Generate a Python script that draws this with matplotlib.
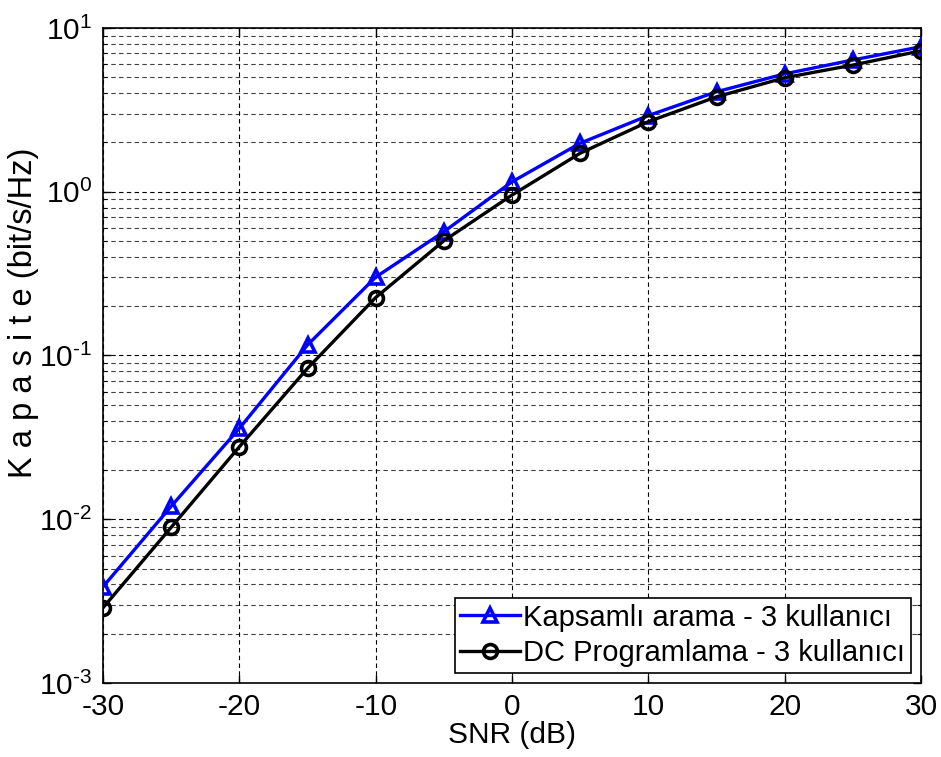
import matplotlib
matplotlib.use("Agg")
import matplotlib.pyplot as plt
from matplotlib.ticker import LogLocator, NullFormatter, FixedLocator, FuncFormatter
import numpy as np

plt.rcParams['font.family'] = ['Liberation Sans', 'DejaVu Sans']
plt.rcParams['mathtext.fontset'] = 'custom'
plt.rcParams['mathtext.rm'] = 'Liberation Sans'
plt.rcParams['mathtext.it'] = 'Liberation Sans'
plt.rcParams['axes.unicode_minus'] = False

snr = [-30, -25, -20, -15, -10, -5, 0, 5, 10, 15, 20, 25, 30]
kapsamli = [0.00387, 0.0120, 0.0359, 0.116, 0.301, 0.570, 1.15, 1.98, 2.92, 4.08, 5.25, 6.38, 7.69]
dc_prog = [0.00288, 0.00893, 0.0277, 0.0835, 0.226, 0.502, 0.955, 1.72, 2.68, 3.80, 4.97, 5.94, 7.26]
labels = ['Kapsamlı arama - 3 kullanıcı', 'DC Programlama - 3 kullanıcı']
xticks = [-30, -20, -10, 0, 10, 20, 30]

FS = 21.5

fig = plt.figure(figsize=(9.41, 7.57), dpi=100)
ax = fig.add_axes([0.1095, 0.0978, 0.8693, 0.8652])

ax.semilogy(snr, kapsamli, color='blue', lw=2.4, marker='^', ms=10.5,
            mfc='none', mec='blue', mew=2.6, label=labels[0], zorder=3)
ax.semilogy(snr, dc_prog, color='black', lw=2.4, marker='o', ms=10,
            mfc='none', mec='black', mew=2.6, label=labels[1], zorder=3)

ax.set_xlim(-30, 30)
ax.set_ylim(1e-3, 1e1)
ax.xaxis.set_major_locator(FixedLocator(xticks))
ax.yaxis.set_major_locator(LogLocator(base=10, numticks=10))
ax.yaxis.set_major_formatter(FuncFormatter(
    lambda v, p: r'$\mathregular{10^{\text{%d}}}$' % int(round(np.log10(v)))))
ax.yaxis.set_minor_locator(LogLocator(base=10, subs=range(2, 10), numticks=20))
ax.yaxis.set_minor_formatter(NullFormatter())

ax.grid(True, which='major', axis='both', color='black', ls=(0, (4, 3)), lw=0.8)
ax.grid(True, which='minor', axis='y', color='black', ls=(0, (4, 3)), lw=0.8, alpha=0.75)

ax.tick_params(which='both', direction='in', top=True, right=True, labelsize=FS)
ax.tick_params(which='major', length=6, width=1)
ax.tick_params(which='minor', length=3, width=0.8)
ax.tick_params(axis='y', which='major', pad=8)
ax.tick_params(axis='x', which='major', pad=7)
for s in ax.spines.values():
    s.set_linewidth(1.2)

ax.set_xlabel('SNR (dB)', fontsize=21.5, labelpad=0)
ax.set_ylabel('K a p a s i t e (bit/s/Hz)', fontsize=23.5)
ax.yaxis.set_label_coords(-0.078, 0.565)

leg = ax.legend(loc='lower right', fontsize=21, frameon=True, fancybox=False,
                edgecolor='black', framealpha=1, borderpad=0.2, handlelength=2.05,
                handletextpad=0.1, labelspacing=0.25, borderaxespad=0.35)
leg.get_frame().set_linewidth(1.2)

fig.savefig('out.png', dpi=100)
